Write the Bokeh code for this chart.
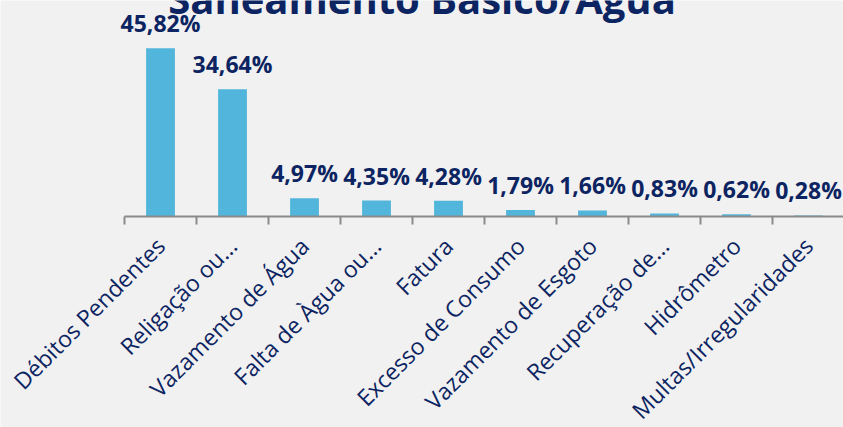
from bokeh.plotting import figure
from bokeh.models import Range1d, FixedTicker, ColumnDataSource
from bokeh.core.properties import value
from bokeh.embed import file_html
from bokeh.resources import INLINE
import math

# ---- data ----
title_text = "Saneamento Básico/Água"
categories = ["Débitos Pendentes", "Religação ou...", "Vazamento de Água",
              "Falta de Àgua ou...", "Fatura", "Excesso de Consumo",
              "Vazamento de Esgoto", "Recuperação de...", "Hidrômetro",
              "Multas/Irregularidades"]
values = [45.82, 34.64, 4.97, 4.35, 4.28, 1.79, 1.66, 0.83, 0.62, 0.28]
labels = ["45,82%", "34,64%", "4,97%", "4,35%", "4,28%", "1,79%", "1,66%",
          "0,83%", "0,62%", "0,28%"]

# ---- styles ----
NAVY = "#0C2461"
BAR = "#52B5DB"
GRAY = "#8A8A8A"
BG = "#F1F1F1"

W, H = 843, 427
AXIS_Y = 216      # px from top of canvas to the category axis line
PX_X = 72.0
PX_Y = 3.67
LEFT_PX = 124     # px from canvas left to first category boundary

xs = list(range(len(categories)))
x_start = -0.5 - LEFT_PX / PX_X
x_end = x_start + W / PX_X
y_end = AXIS_Y / PX_Y
y_start = -(H - AXIS_Y) / PX_Y

p = figure(width=W, height=H, output_backend="svg", toolbar_location=None,
           x_range=Range1d(x_start, x_end), y_range=Range1d(y_start, y_end),
           y_axis_location=None, min_border_left=0, min_border_right=0,
           min_border_top=0, min_border_bottom=0)
p.background_fill_color = BG
p.border_fill_color = BG
p.outline_line_color = None
p.grid.visible = False

src = ColumnDataSource(dict(x=xs, top=values, lab=labels))
p.vbar(x="x", top="top", width=0.4, source=src, fill_color=BAR,
       line_color=None)

p.text(x="x", y="top", text="lab", source=src, text_align="center",
       text_baseline="alphabetic", y_offset=-25,
       text_font=value("Open Sans"), text_font_style="bold",
       text_font_size="23px", text_color=NAVY)

# partially visible title at the top
p.text(x=[(x_start + x_end) / 2], y=[y_end + 2 / PX_Y], text=[title_text],
       text_align="center", text_baseline="alphabetic",
       text_font=value("Open Sans"), text_font_style="bold",
       text_font_size="40px", text_color=NAVY)

ax = p.xaxis[0]
ax.fixed_location = 0
ax.ticker = FixedTicker(ticks=xs, minor_ticks=[i - 0.5 for i in range(len(xs) + 1)])
ax.major_label_overrides = {i: c for i, c in zip(xs, categories)}
ax.bounds = (-0.5, len(xs) - 0.5)
ax.axis_line_color = GRAY
ax.axis_line_width = 2
ax.major_tick_line_color = None
ax.major_tick_in = 0
ax.major_tick_out = 0
ax.minor_tick_line_color = GRAY
ax.minor_tick_line_width = 2
ax.minor_tick_in = 0
ax.minor_tick_out = 8
ax.major_label_orientation = math.pi / 4
ax.major_label_standoff = 17
ax.major_label_text_font = "Open Sans"
ax.major_label_text_font_size = "23px"
ax.major_label_text_color = NAVY

open("out.html", "w").write(file_html(p, INLINE))
